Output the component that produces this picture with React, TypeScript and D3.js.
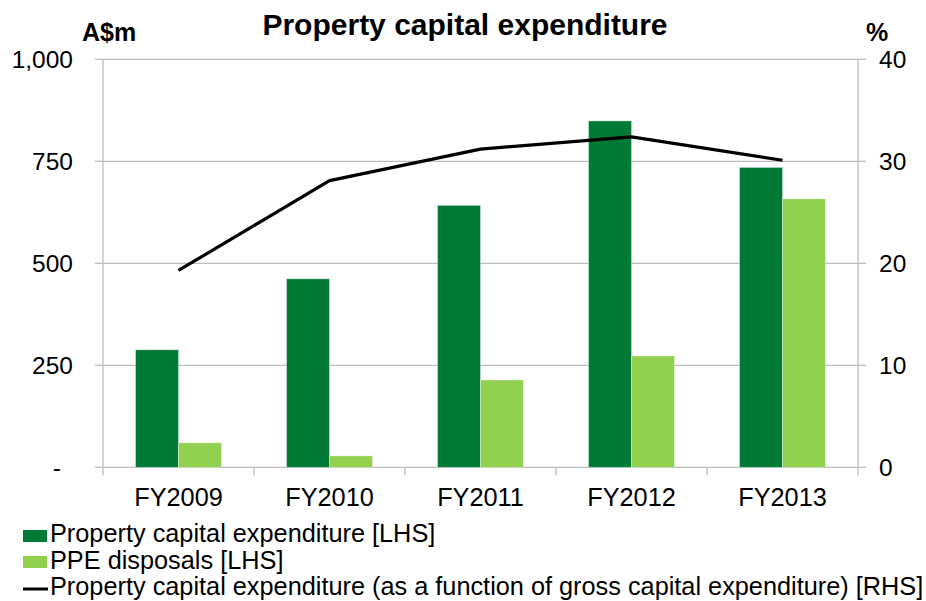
import React, { useEffect, useRef } from 'react';
import * as d3 from 'd3';

const years = ['FY2009', 'FY2010', 'FY2011', 'FY2012', 'FY2013'];
const capex = [288, 462, 642, 849, 735];
const disposals = [60, 28, 214, 273, 658];
const capexPct = [19.3, 28.1, 31.2, 32.4, 30.1];
const leftTicks = [0, 250, 500, 750, 1000];
const rightTicks = [0, 10, 20, 30, 40];
const legendLabels = [
  'Property capital expenditure [LHS]',
  'PPE disposals [LHS]',
  'Property capital expenditure (as a function of gross capital expenditure) [RHS]',
];

const W = 926;
const H = 601;
const DARK = '#017A36';
const LIGHT = '#92D050';
const GRID = '#BDBDBD';
const FONT = '"Liberation Sans", Arial, sans-serif';

export default function App() {
  const ref = useRef<SVGSVGElement | null>(null);

  useEffect(() => {
    const svg = d3.select(ref.current);
    svg.selectAll('*').remove();

    const left = 103, right = 858, top = 59.3, bottom = 467.3;

    const x = d3.scaleBand().domain(years).range([left, right]).paddingInner(0).paddingOuter(0);
    const inner = d3.scaleBand().domain(['capex', 'disp']).range([0, x.bandwidth()]).paddingOuter(0.756).paddingInner(0);
    const yL = d3.scaleLinear().domain([0, 1000]).range([bottom, top]);
    const yR = d3.scaleLinear().domain([0, 40]).range([bottom, top]);

    // grid lines
    svg.append('g')
      .selectAll('line')
      .data(leftTicks)
      .join('line')
      .attr('x1', left - 8)
      .attr('x2', right + 8)
      .attr('y1', d => yL(d))
      .attr('y2', d => yL(d))
      .attr('stroke', GRID)
      .attr('stroke-width', 1.3);

    // vertical axes
    [left, right].forEach(px => {
      svg.append('line')
        .attr('x1', px).attr('x2', px)
        .attr('y1', top).attr('y2', bottom)
        .attr('stroke', GRID).attr('stroke-width', 1.3);
    });

    // x tick marks at category boundaries
    const bounds = years.map(d => x(d) as number).concat([right]);
    svg.append('g')
      .selectAll('line')
      .data(bounds)
      .join('line')
      .attr('x1', d => d).attr('x2', d => d)
      .attr('y1', bottom).attr('y2', bottom + 8)
      .attr('stroke', GRID).attr('stroke-width', 1.3);

    // bars
    const g = svg.append('g');
    years.forEach((yr, i) => {
      const x0 = x(yr) as number;
      g.append('rect')
        .attr('x', x0 + (inner('capex') as number))
        .attr('y', yL(capex[i]))
        .attr('width', inner.bandwidth())
        .attr('height', bottom - yL(capex[i]))
        .attr('fill', DARK)
        .attr('stroke', 'rgba(255,255,255,0.45)')
        .attr('stroke-width', 0.8);
      g.append('rect')
        .attr('x', x0 + (inner('disp') as number))
        .attr('y', yL(disposals[i]))
        .attr('width', inner.bandwidth())
        .attr('height', bottom - yL(disposals[i]))
        .attr('fill', LIGHT)
        .attr('stroke', 'rgba(255,255,255,0.45)')
        .attr('stroke-width', 0.8);
    });

    // line
    const line = d3.line<number>()
      .x((_, i) => (x(years[i]) as number) + x.bandwidth() / 2)
      .y(d => yR(d));
    svg.append('path')
      .attr('d', line(capexPct))
      .attr('fill', 'none')
      .attr('stroke', '#000')
      .attr('stroke-width', 3.2)
      .attr('stroke-linejoin', 'round');

    // left tick labels (zero shown as a dash, accounting style)
    svg.append('g')
      .selectAll('text')
      .data(leftTicks)
      .join('text')
      .attr('x', d => (d === 0 ? 61 : 73))
      .attr('y', d => yL(d))
      .attr('dy', '0.36em')
      .attr('text-anchor', 'end')
      .attr('font-family', FONT)
      .attr('font-size', 24.5)
      .attr('fill', '#000')
      .text(d => (d === 0 ? '-' : d3.format(',')(d)));

    // right tick labels
    svg.append('g')
      .selectAll('text')
      .data(rightTicks)
      .join('text')
      .attr('x', 879)
      .attr('y', d => yR(d))
      .attr('dy', '0.36em')
      .attr('text-anchor', 'start')
      .attr('font-family', FONT)
      .attr('font-size', 24.5)
      .attr('fill', '#000')
      .text(d => String(d));

    // x labels
    svg.append('g')
      .selectAll('text')
      .data(years)
      .join('text')
      .attr('x', d => (x(d) as number) + x.bandwidth() / 2)
      .attr('y', 506)
      .attr('text-anchor', 'middle')
      .attr('font-family', FONT)
      .attr('font-size', 25.3)
      .attr('fill', '#000')
      .text(d => d);

    // title and unit labels
    svg.append('text')
      .attr('x', 465).attr('y', 35)
      .attr('text-anchor', 'middle')
      .attr('font-family', FONT).attr('font-size', 30).attr('font-weight', 'bold')
      .text('Property capital expenditure');
    svg.append('text')
      .attr('x', 82).attr('y', 41)
      .attr('font-family', FONT).attr('font-size', 25).attr('font-weight', 'bold')
      .text('A$m');
    svg.append('text')
      .attr('x', 866).attr('y', 41)
      .attr('font-family', FONT).attr('font-size', 25).attr('font-weight', 'bold')
      .text('%');

    // legend
    const markY = [536, 562, 589];
    const textY = [542, 568.5, 595];
    const lg = svg.append('g');
    legendLabels.forEach((lab, i) => {
      if (i < 2) {
        lg.append('rect')
          .attr('x', 23).attr('y', markY[i] - 6)
          .attr('width', 24).attr('height', 12)
          .attr('fill', i === 0 ? DARK : LIGHT);
      } else {
        lg.append('line')
          .attr('x1', 23).attr('x2', 48)
          .attr('y1', markY[i]).attr('y2', markY[i])
          .attr('stroke', '#000').attr('stroke-width', 3);
      }
      lg.append('text')
        .attr('x', 50).attr('y', textY[i])
        .attr('font-family', FONT).attr('font-size', 25.3)
        .attr('fill', '#000')
        .text(lab);
    });
  }, []);

  return (
    <svg
      ref={ref}
      width={W}
      height={H}
      style={{ position: 'absolute', left: 0, top: 0, background: '#fff' }}
    />
  );
}
